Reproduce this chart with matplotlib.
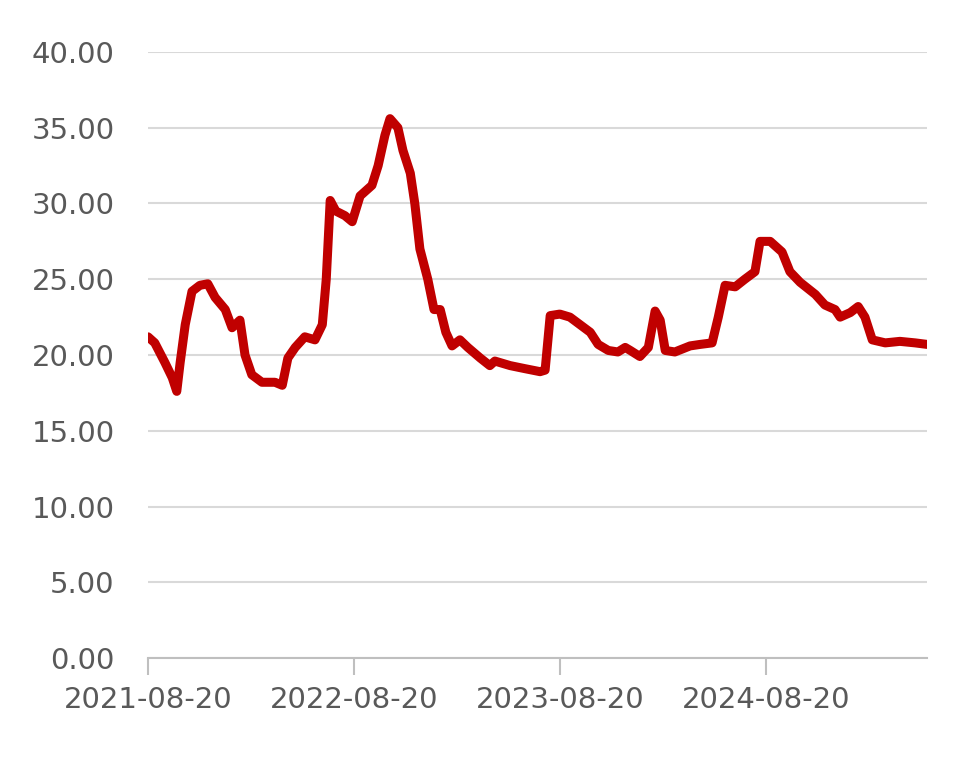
import numpy as np
import matplotlib.pyplot as plt

dates = ["2021-08-20", "2021-09-01", "2021-09-19", "2021-10-02", "2021-10-10", "2021-10-16",
         "2021-10-25", "2021-11-06", "2021-11-20", "2021-12-04", "2021-12-17", "2022-01-04",
         "2022-01-16", "2022-01-30", "2022-02-08", "2022-02-20", "2022-03-10", "2022-04-02",
         "2022-04-15", "2022-04-25", "2022-05-08", "2022-05-25", "2022-06-12", "2022-06-25",
         "2022-07-02", "2022-07-09", "2022-07-19", "2022-08-04", "2022-08-17", "2022-08-31",
         "2022-09-21", "2022-10-02", "2022-10-14", "2022-10-23", "2022-11-06", "2022-11-15",
         "2022-11-28", "2022-12-06", "2022-12-15", "2022-12-29", "2023-01-09", "2023-01-20",
         "2023-01-30", "2023-02-10", "2023-02-24", "2023-03-10", "2023-04-01", "2023-04-18",
         "2023-04-27", "2023-05-24", "2023-06-19", "2023-07-16", "2023-07-25", "2023-08-03",
         "2023-08-20", "2023-09-07", "2023-09-25", "2023-10-13", "2023-10-27", "2023-11-14",
         "2023-12-01", "2023-12-14", "2023-12-23", "2024-01-09", "2024-01-24", "2024-02-05",
         "2024-02-14", "2024-02-23", "2024-03-11", "2024-04-07", "2024-04-25", "2024-05-16",
         "2024-05-27", "2024-06-08", "2024-06-26", "2024-07-13", "2024-07-31", "2024-08-09",
         "2024-08-27", "2024-09-17", "2024-10-01", "2024-10-19", "2024-11-15", "2024-12-02",
         "2024-12-20", "2024-12-29", "2025-01-16", "2025-01-30", "2025-02-11", "2025-02-24",
         "2025-03-19", "2025-04-14", "2025-05-11", "2025-06-01"]
values = [21.2, 20.8, 19.5, 18.5, 17.6, 19.5,
          22.0, 24.2, 24.6, 24.7, 23.8, 23.0,
          21.8, 22.3, 20.0, 18.7, 18.2, 18.2,
          18.0, 19.8, 20.5, 21.2, 21.0, 22.0,
          25.0, 30.2, 29.5, 29.2, 28.8, 30.5,
          31.2, 32.5, 34.5, 35.6, 35.0, 33.5,
          32.0, 30.0, 27.0, 25.0, 23.0, 23.0,
          21.5, 20.6, 21.0, 20.5, 19.8, 19.3,
          19.6, 19.3, 19.1, 18.9, 19.0, 22.6,
          22.7, 22.5, 22.0, 21.5, 20.7, 20.3,
          20.2, 20.5, 20.3, 19.9, 20.5, 22.9,
          22.3, 20.3, 20.2, 20.6, 20.7, 20.8,
          22.5, 24.6, 24.5, 25.0, 25.5, 27.5,
          27.5, 26.8, 25.5, 24.8, 24.0, 23.3,
          23.0, 22.5, 22.8, 23.2, 22.5, 21.0,
          20.8, 20.9, 20.8, 20.7]
tick_dates = ["2021-08-20", "2022-08-20", "2023-08-20", "2024-08-20"]

x = np.array(dates, dtype="datetime64[D]")
grey = "#595959"

fig = plt.figure(figsize=(9.77, 7.63), dpi=100)
ax = fig.add_axes([148 / 977, 105 / 763, 779 / 977, 606 / 763])
ax.plot(x, values, color="#C00000", linewidth=6.5, solid_joinstyle="round", solid_capstyle="round")

ax.set_ylim(0, 40)
ax.set_yticks(np.arange(0, 41, 5))
ax.set_yticklabels([f"{v:.2f}" for v in np.arange(0, 41, 5)])
ax.set_xlim(x[0], x[-1])
ticks = np.array(tick_dates, dtype="datetime64[D]")
ax.set_xticks(ticks)
ax.set_xticklabels(tick_dates)

ax.grid(axis="y", color="#d9d9d9", linewidth=1.5)
ax.set_axisbelow(True)
for s in ["top", "right", "left"]:
    ax.spines[s].set_visible(False)
ax.spines["bottom"].set_color("#bfbfbf")
ax.spines["bottom"].set_linewidth(1.5)
ax.tick_params(axis="y", length=0, labelsize=21, labelcolor=grey, pad=24)
ax.tick_params(axis="x", length=12, width=1.5, color="#bfbfbf", labelsize=21, labelcolor=grey, pad=8)

fig.savefig("out.png", dpi=100)
